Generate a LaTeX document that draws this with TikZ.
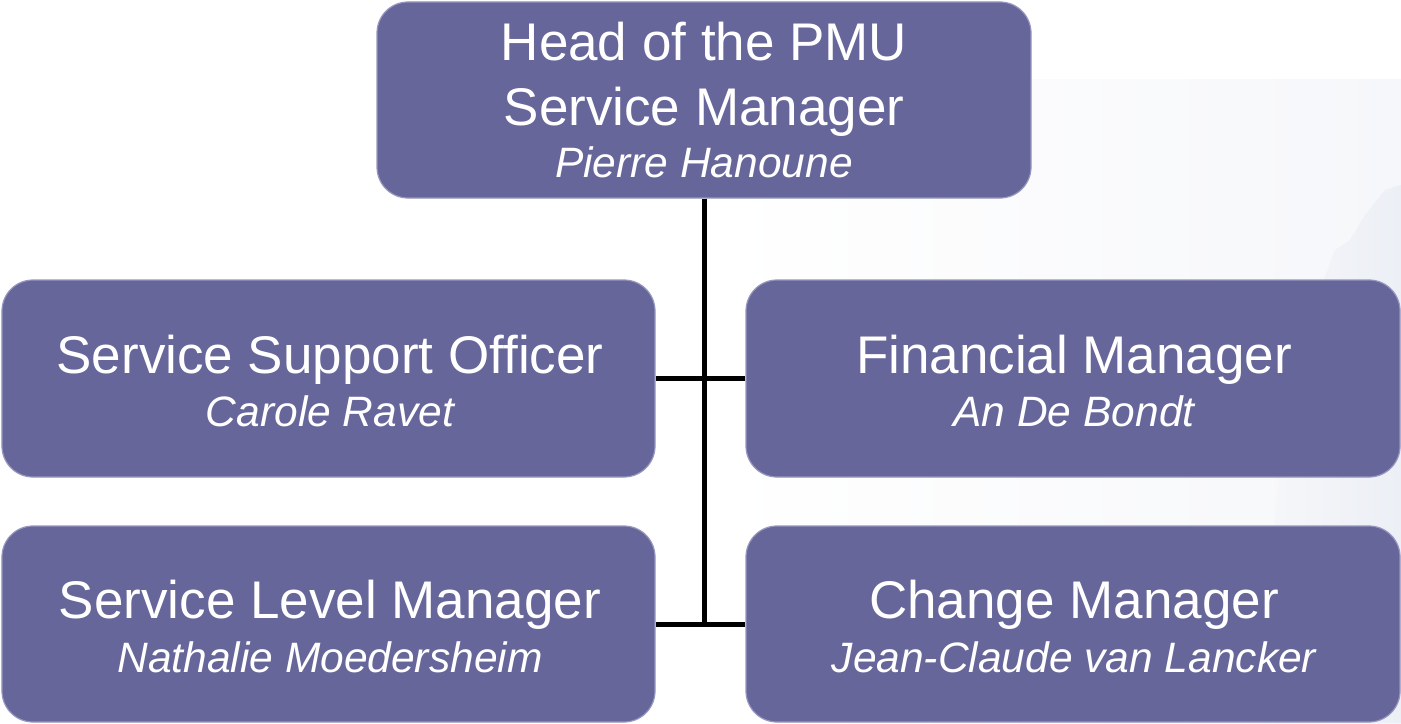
\documentclass[tikz,border=0pt]{standalone}
\usepackage{fontspec}
\setmainfont{Liberation Sans}
\definecolor{boxfill}{RGB}{102,102,154}
\definecolor{boxedge}{RGB}{150,150,190}
\definecolor{bgfaint}{RGB}{246,247,250}
\definecolor{bgfaint2}{RGB}{236,239,245}
\tikzset{
  orgbox/.style={draw=boxedge, line width=1.2bp, fill=boxfill, rounded corners=31bp, inner sep=0pt},
  roletext/.style={text=white, anchor=base, inner sep=0pt, font=\fontsize{53bp}{62bp}\selectfont},
  nametext/.style={text=white, anchor=base, inner sep=0pt, font=\fontsize{42.5bp}{50bp}\selectfont\itshape},
  link/.style={draw=black, line width=5bp}
}
\begin{document}
\begin{tikzpicture}[x=1bp,y=-1bp]
\useasboundingbox (0,0) rectangle (1401,723);
% faint background picture
\shade[left color=white, right color=bgfaint] (720,80) rectangle (1401,723);
\shade[left color=bgfaint, right color=bgfaint2] (1290,330) -- (1320,290) -- (1335,250) -- (1350,240) -- (1365,215) -- (1385,190) -- (1401,185) -- (1401,723) -- (1260,723) -- cycle;
% boxes
\node[orgbox, minimum width=654bp, minimum height=196bp] (top) at (704,100) {};
\node[orgbox, minimum width=653bp, minimum height=197bp] (sso) at (328.5,378.5) {};
\node[orgbox, minimum width=654bp, minimum height=197bp] (fm) at (1073,378.5) {};
\node[orgbox, minimum width=653bp, minimum height=196bp] (slm) at (328.5,624) {};
\node[orgbox, minimum width=654bp, minimum height=196bp] (cm) at (1073,624) {};
% connectors
\coordinate (junction) at (top.south |- slm.east);
\draw[link] (top.south) -- (junction);
\draw[link] (sso.east) -- (fm.west);
\draw[link] (slm.east) -- (cm.west);
% texts
\node[roletext] (t1) at (704,61) {Head of the PMU};
\node[roletext] (t2) at (704,126) {Service Manager};
\node[nametext] (t3) at (704,177) {Pierre Hanoune};
\node[roletext] (s1) at (330,373) {Service Support Officer};
\node[nametext] (s2) at (330,426) {Carole Ravet};
\node[roletext] (f1) at (1074,373) {Financial Manager};
\node[nametext] (f2) at (1074,426) {An De Bondt};
\node[roletext] (l1) at (330,618) {Service Level Manager};
\node[nametext] (l2) at (330,672) {Nathalie Moedersheim};
\node[roletext] (c1) at (1074,618) {Change Manager};
\node[nametext] (c2) at (1074,672) {Jean-Claude van Lancker};
\end{tikzpicture}
\end{document}
